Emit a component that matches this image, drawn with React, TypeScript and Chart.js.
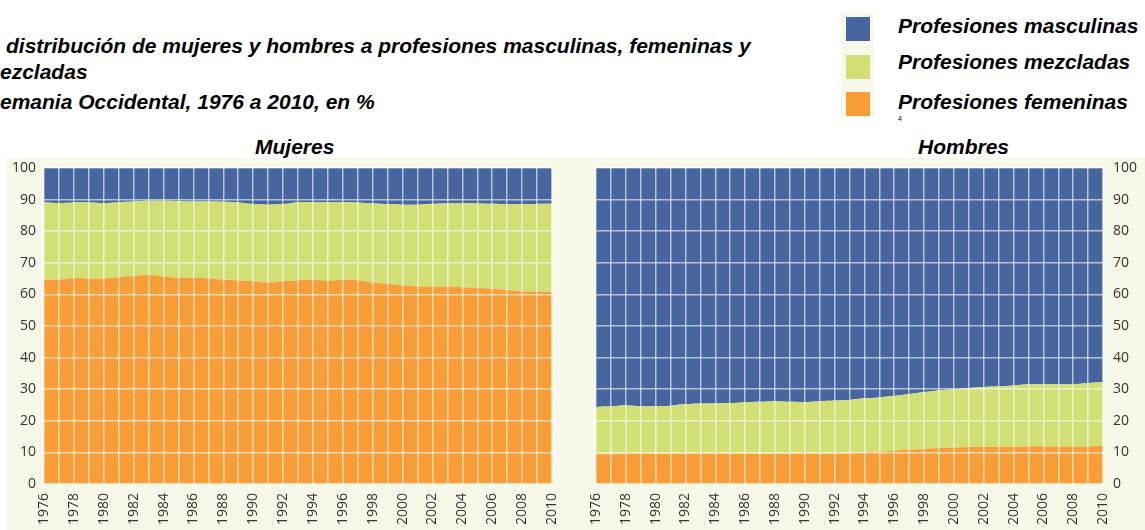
import React, { useEffect, useRef } from "react";
import { Chart, registerables } from "chart.js";

Chart.register(...registerables);

// ---------- DATA ----------
const years = [
  "1976", "1977", "1978", "1979", "1980", "1981", "1982", "1983", "1984", "1985",
  "1986", "1987", "1988", "1989", "1990", "1991", "1992", "1993", "1994", "1995",
  "1996", "1997", "1998", "1999", "2000", "2001", "2002", "2003", "2004", "2005",
  "2006", "2007", "2008", "2009", "2010",
];

const yTicks = [0, 10, 20, 30, 40, 50, 60, 70, 80, 90, 100];

// Mujeres (%)
const mujeresFemeninas = [
  64.6, 64.6, 65.2, 65.0, 65.0, 65.4, 65.8, 66.1, 65.7, 65.3,
  65.3, 65.1, 64.6, 64.4, 64.2, 63.8, 64.2, 64.5, 64.6, 64.3,
  64.6, 64.5, 63.8, 63.4, 62.8, 62.5, 62.5, 62.5, 62.3, 62.1,
  61.8, 61.4, 60.9, 60.9, 60.7,
];
const mujeresMezcladas = [
  24.6, 24.3, 23.9, 24.1, 23.9, 23.8, 23.6, 23.5, 23.9, 24.2,
  24.1, 24.3, 24.7, 24.7, 24.4, 24.6, 24.4, 24.7, 24.6, 24.9,
  24.6, 24.6, 25.0, 25.2, 25.6, 25.9, 26.2, 26.3, 26.5, 26.7,
  26.9, 27.2, 27.6, 27.8, 28.0,
];
const mujeresMasculinas = [
  10.8, 11.1, 10.9, 10.9, 11.1, 10.8, 10.6, 10.4, 10.4, 10.5,
  10.6, 10.6, 10.7, 10.9, 11.4, 11.6, 11.4, 10.8, 10.8, 10.8,
  10.8, 10.9, 11.2, 11.4, 11.6, 11.6, 11.3, 11.2, 11.2, 11.2,
  11.3, 11.4, 11.5, 11.3, 11.3,
];

// Hombres (%)
const hombresFemeninas = [
  9.4, 9.4, 9.5, 9.5, 9.5, 9.5, 9.5, 9.5, 9.5, 9.5,
  9.5, 9.5, 9.5, 9.5, 9.5, 9.5, 9.6, 9.7, 10.0, 10.2,
  10.5, 10.9, 11.1, 11.4, 11.5, 11.7, 11.8, 11.8, 11.8, 11.9,
  11.9, 11.9, 11.9, 11.9, 12.0,
];
const hombresMezcladas = [
  15.0, 15.2, 15.4, 15.1, 15.1, 15.3, 15.8, 16.0, 16.0, 16.1,
  16.4, 16.5, 16.7, 16.5, 16.4, 16.7, 16.8, 16.9, 17.1, 17.2,
  17.4, 17.6, 18.0, 18.3, 18.5, 18.7, 18.9, 19.1, 19.4, 19.7,
  19.7, 19.7, 19.7, 20.1, 20.3,
];
const hombresMasculinas = [
  75.6, 75.4, 75.1, 75.4, 75.4, 75.2, 74.7, 74.5, 74.5, 74.4,
  74.1, 74.0, 73.8, 74.0, 74.1, 73.8, 73.6, 73.4, 72.9, 72.6,
  72.1, 71.5, 70.9, 70.3, 70.0, 69.6, 69.3, 69.1, 68.8, 68.4,
  68.4, 68.4, 68.4, 68.0, 67.7,
];

const seriesNames = ["Profesiones femeninas", "Profesiones mezcladas", "Profesiones masculinas"];
const legendNames = ["Profesiones masculinas", "Profesiones mezcladas", "Profesiones femeninas"];

// ---------- STYLE ----------
const ORANGE = "#f99d37";
const GREEN = "#d2df74";
const BLUE = "#47669f";
const CREAM = "#f6f8ea";
const GRID = "rgba(255,255,255,0.6)";
const TICK = "#333333";
const TICK_FONT = "'Open Sans', 'DejaVu Sans', sans-serif";
const TITLE_FONT = "'Liberation Sans', Arial, sans-serif";

type Side = "left" | "right";

function makeChart(
  canvas: HTMLCanvasElement,
  fem: number[],
  mix: number[],
  masc: number[],
  side: Side
) {
  const base = {
    borderWidth: 0,
    pointRadius: 0,
    pointHoverRadius: 0,
    tension: 0.3,
  };
  return new Chart(canvas, {
    type: "line",
    data: {
      labels: years,
      datasets: [
        { ...base, label: seriesNames[0], data: fem, backgroundColor: ORANGE, borderColor: ORANGE, fill: "origin" },
        { ...base, label: seriesNames[1], data: mix, backgroundColor: GREEN, borderColor: GREEN, fill: "-1" },
        { ...base, label: seriesNames[2], data: masc, backgroundColor: BLUE, borderColor: BLUE, fill: "-1" },
      ],
    },
    options: {
      animation: false,
      responsive: false,
      events: [],
      layout: {
        padding:
          side === "left"
            ? { top: 10, right: 8, left: 0, bottom: 0 }
            : { top: 10, right: 0, left: 36, bottom: 0 },
      },
      plugins: {
        legend: { display: false },
        tooltip: { enabled: false },
        title: { display: false },
      },
      scales: {
        x: {
          grid: { color: GRID, lineWidth: 1.5, drawTicks: false, offset: false, z: 1 },
          border: { display: false },
          ticks: {
            autoSkip: false,
            maxRotation: 90,
            minRotation: 90,
            padding: 9,
            color: TICK,
            font: { family: TICK_FONT, size: 14 },
            callback: (_v: any, i: number) => (i % 2 === 0 ? years[i] : ""),
          },
          afterFit: (s: any) => {
            s.height = 46;
            s.paddingLeft = 0;
            s.paddingRight = 0;
            s.paddingTop = 0;
            s.paddingBottom = 0;
          },
        },
        y: {
          position: side,
          stacked: true,
          min: yTicks[0],
          max: yTicks[yTicks.length - 1],
          grid: { color: GRID, lineWidth: 1.5, drawTicks: false, z: 1 },
          border: { display: false },
          ticks: {
            stepSize: 10,
            padding: side === "left" ? 8 : 10,
            color: TICK,
            font: { family: TICK_FONT, size: 14 },
          },
          afterFit: (s: any) => {
            s.width = side === "left" ? 37 : 42;
            s.paddingLeft = 0;
            s.paddingRight = 0;
            s.paddingTop = 0;
            s.paddingBottom = 0;
          },
        },
      },
    } as any,
  });
}

function ChartCanvas(props: {
  fem: number[];
  mix: number[];
  masc: number[];
  side: Side;
  left: number;
  top: number;
  width: number;
  height: number;
}) {
  const ref = useRef<HTMLCanvasElement | null>(null);
  useEffect(() => {
    if (!ref.current) return;
    const c = makeChart(ref.current, props.fem, props.mix, props.masc, props.side);
    return () => c.destroy();
  }, []);
  return (
    <canvas
      ref={ref}
      width={props.width}
      height={props.height}
      style={{
        position: "absolute",
        left: props.left,
        top: props.top,
        width: props.width,
        height: props.height,
      }}
    />
  );
}

const textBase: React.CSSProperties = {
  position: "absolute",
  fontFamily: TITLE_FONT,
  fontWeight: "bold",
  fontStyle: "italic",
  fontSize: 21,
  lineHeight: "21px",
  whiteSpace: "nowrap",
  color: "#000",
};

export default function App() {
  const legendColors = [BLUE, GREEN, ORANGE];
  const legendTops = [17, 55, 92];
  const legendTextTops = [15, 51, 91];
  return (
    <div
      style={{
        position: "fixed",
        left: 0,
        top: 0,
        width: 1145,
        height: 530,
        background: "#fff",
        overflow: "hidden",
      }}
    >
      {/* Title */}
      <div style={{ ...textBase, left: 6, top: 35 }}>
        distribución de mujeres y hombres a profesiones masculinas, femeninas y
      </div>
      <div style={{ ...textBase, left: 0, top: 61 }}>ezcladas</div>
      <div style={{ ...textBase, left: 0, top: 91 }}>emania Occidental, 1976 a 2010, en %</div>

      {/* Legend */}
      <div
        style={{
          position: "absolute",
          left: 841,
          top: 13,
          width: 33,
          height: 104,
          background: CREAM,
        }}
      />
      {legendNames.map((n, i) => (
        <React.Fragment key={n}>
          <div
            style={{
              position: "absolute",
              left: 846,
              top: legendTops[i],
              width: 24,
              height: 24,
              background: legendColors[i],
            }}
          />
          <div style={{ ...textBase, left: 898, top: legendTextTops[i] }}>{n}</div>
        </React.Fragment>
      ))}
      <div
        style={{
          position: "absolute",
          left: 898,
          top: 115,
          fontFamily: TITLE_FONT,
          fontSize: 7,
          lineHeight: "7px",
          color: "#000",
        }}
      >
        4
      </div>

      {/* Panel background */}
      <div
        style={{
          position: "absolute",
          left: 7,
          top: 158,
          width: 1138,
          height: 372,
          background: CREAM,
        }}
      />

      {/* Panel titles */}
      <div style={{ ...textBase, left: 255, top: 136 }}>Mujeres</div>
      <div style={{ ...textBase, left: 918, top: 136 }}>Hombres</div>

      <ChartCanvas
        fem={mujeresFemeninas}
        mix={mujeresMezcladas}
        masc={mujeresMasculinas}
        side="left"
        left={7}
        top={158}
        width={553}
        height={372}
      />
      <ChartCanvas
        fem={hombresFemeninas}
        mix={hombresMezcladas}
        masc={hombresMasculinas}
        side="right"
        left={560}
        top={158}
        width={585}
        height={372}
      />
    </div>
  );
}
